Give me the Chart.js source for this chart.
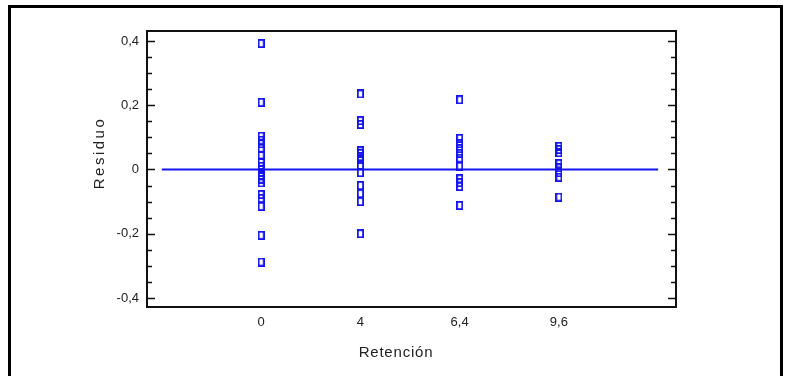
<!DOCTYPE html>
<html>
<head>
<meta charset="utf-8">
<script src="https://cdn.jsdelivr.net/npm/chart.js@4"></script>
<style>
	body { margin: 0; background: #fff; }
	canvas { display: block; }
</style>
</head>
<body>
<canvas id="residuos" width="794" height="376"></canvas>
<script>
// Retención levels (plotted evenly spaced, like categories)
const categories = ['0', '4', '6,4', '9,6']

// residuals, one list per level
const residuos0 = [0.392, 0.209, 0.104, 0.091, 0.080, 0.066, 0.045, 0.022, 0.010, 0.000, -0.010, -0.020, -0.030, -0.042, -0.078, -0.090, -0.115, -0.205, -0.288]
const residuos4 = [0.235, 0.152, 0.140, 0.058, 0.050, 0.040, 0.030, 0.012, -0.010, -0.050, -0.075, -0.100, -0.200]
const residuos64 = [0.217, 0.097, 0.080, 0.065, 0.050, 0.035, 0.010, -0.029, -0.041, -0.053, -0.112]
const residuos96 = [0.072, 0.062, 0.052, 0.018, 0.005, -0.010, -0.024, -0.086]

// y axis ticks: every 0,05, labelled every 0,2
const yTicks = [-0.4, -0.35, -0.3, -0.25, -0.2, -0.15, -0.1, -0.05, 0, 0.05, 0.1, 0.15, 0.2, 0.25, 0.3, 0.35, 0.4]
const yMajor = [-0.4, -0.2, 0, 0.2, 0.4]
const yLabels = ['-0,4', '-0,2', '0', '0,2', '0,4']

const blue = '#1414f0'

// open square marker, a bit taller than wide
const marker = document.createElement('canvas')
marker.width = 7
marker.height = 9
let mctx = marker.getContext('2d')
mctx.strokeStyle = blue
mctx.lineWidth = 1.8
mctx.strokeRect(0.9, 0.9, 5.2, 7.2)

let points = []
;[residuos0, residuos4, residuos64, residuos96].forEach(function (list, i) {
	list.forEach(function (v) {
		points.push({ x: i, y: v })
	})
})

// outer frame, plot box, inside ticks and the axis titles
const framePlugin = {
	id: 'framePlugin',
	afterDraw: function (chart) {
		let ctx = chart.ctx
		let a = chart.chartArea
		let y = chart.scales.y
		ctx.save()
		ctx.strokeStyle = '#000'
		ctx.lineWidth = 3
		ctx.strokeRect(9.5, 6.5, 772, 400)

		ctx.strokeStyle = '#111'
		ctx.lineWidth = 2
		ctx.strokeRect(a.left, a.top, a.right - a.left, a.bottom - a.top)

		ctx.lineWidth = 1.5
		ctx.beginPath()
		y.ticks.forEach(function (t) {
			let py = Math.round(y.getPixelForValue(t.value)) + 0.5
			let len = yMajor.indexOf(t.value) >= 0 ? 8 : 5
			ctx.moveTo(a.left, py)
			ctx.lineTo(a.left + len, py)
			ctx.moveTo(a.right - len, py)
			ctx.lineTo(a.right, py)
		})
		ctx.stroke()

		ctx.fillStyle = '#222'
		ctx.textAlign = 'center'
		ctx.textBaseline = 'middle'
		ctx.font = '15px "Liberation Sans", Arial, sans-serif'
		ctx.letterSpacing = '0.8px'
		ctx.fillText('Retención', 396, 353)

		ctx.translate(100, 153)
		ctx.rotate(-Math.PI / 2)
		ctx.letterSpacing = '2.5px'
		ctx.fillText('Residuo', 0, 0)
		ctx.restore()
	},
}

const tickFont = { family: '"Liberation Sans", Arial, sans-serif', size: 13 }

new Chart(document.getElementById('residuos'), {
	type: 'scatter',
	data: {
		datasets: [
			{
				data: points,
				pointStyle: marker,
				pointRadius: 4,
				borderColor: blue,
				backgroundColor: blue,
			},
			{
				// zero line
				data: [{ x: -1, y: 0 }, { x: 4, y: 0 }],
				showLine: true,
				pointRadius: 0,
				borderColor: blue,
				borderWidth: 2,
			},
		],
	},
	options: {
		responsive: false,
		animation: false,
		events: [],
		layout: { padding: { left: 20, top: 31, right: 118, bottom: 10 } },
		plugins: {
			legend: { display: false },
			tooltip: { enabled: false },
		},
		scales: {
			x: {
				type: 'linear',
				min: -1.15,
				max: 4.18,
				afterBuildTicks: function (scale) {
					scale.ticks = categories.map(function (c, i) { return { value: i } })
				},
				afterFit: function (scale) { scale.height = 59 },
				grid: { display: false, drawTicks: false },
				border: { display: false },
				ticks: {
					autoSkip: false,
					maxRotation: 0,
					padding: 8,
					color: '#222',
					font: tickFont,
					callback: function (v) { return categories[v] },
				},
			},
			y: {
				min: -0.428,
				max: 0.431,
				afterBuildTicks: function (scale) {
					scale.ticks = yTicks.map(function (v) { return { value: v } })
				},
				afterFit: function (scale) { scale.width = 127 },
				grid: { display: false, drawTicks: false },
				border: { display: false },
				ticks: {
					autoSkip: false,
					padding: 8,
					color: '#222',
					font: tickFont,
					callback: function (v) {
						let i = yMajor.indexOf(v)
						return i >= 0 ? yLabels[i] : ''
					},
				},
			},
		},
	},
	plugins: [framePlugin],
})
</script>
</body>
</html>
